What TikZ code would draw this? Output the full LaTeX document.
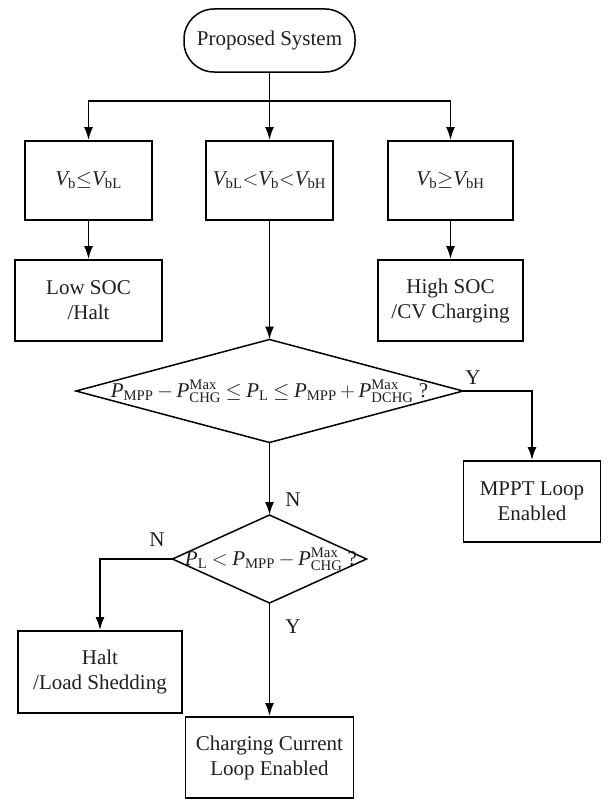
\documentclass[tikz,border=0pt]{standalone}
\usepackage{amsmath}
\usepackage{fontspec}
\setmainfont{Liberation Serif}
\usetikzlibrary{shapes.geometric,arrows.meta}
\newcommand{\dfont}{\fontsize{21pt}{25pt}\selectfont\thickmuskip=4mu\medmuskip=3mu}
\newcommand{\Vv}{\textit{V}}
\newcommand{\Pp}{\textit{P}}
\begin{document}
\begin{tikzpicture}[x=1pt,y=-1pt,
  every node/.style={text=black!88},
  box/.style={draw=black, line width=1.8pt, rectangle, inner sep=0pt, align=center, font=\dfont},
  pill/.style={draw=black, line width=1.5pt, rectangle, rounded corners=30pt, inner sep=0pt, font=\dfont},
  dia/.style={draw=black, line width=1.5pt, diamond, inner sep=0pt, outer sep=0pt},
  dtext/.style={inner sep=0pt, font=\dfont},
  lbl/.style={inner sep=0pt, font=\dfont},
  arr/.style={-{Latex[length=13pt,width=9pt]}, line width=1.8pt},
  conn/.style={line width=1.8pt}]
\useasboundingbox (0,0) rectangle (611,800);

% nodes
\node[pill, minimum width=171pt, minimum height=63pt] (ps) at (269.5,40.5) {Proposed System};

\node[box, minimum width=127pt, minimum height=79pt] (b1) at (88.5,180.5) {$\Vv_{\textrm{b}}{\le}\Vv_{\textrm{bL}}$};
\node[box, minimum width=127pt, minimum height=79pt] (b2) at (269.5,180.5) {$\Vv_{\textrm{bL}}{<}\Vv_{\textrm{b}}{<}\Vv_{\textrm{bH}}$};
\node[box, minimum width=125pt, minimum height=79pt] (b3) at (450.5,180.5) {$\Vv_{\textrm{b}}{\ge}\Vv_{\textrm{bH}}$};

\node[box, minimum width=147pt, minimum height=81pt] (low) at (88.5,300.5) {Low SOC\\/Halt};
\node[box, minimum width=145pt, minimum height=81pt] (high) at (450.5,300.5) {High SOC\\/CV Charging};

\node[dia, minimum width=387pt, minimum height=103pt] (d1) at (269.5,391) {};
\node[dtext] (d1t) at (d1.center) {$\Pp_{\textrm{MPP}} - \Pp^{\textrm{Max}}_{\textrm{CHG}} \le \Pp_{\textrm{L}} \le \Pp_{\textrm{MPP}} + \Pp^{\textrm{Max}}_{\textrm{DCHG}}$ ?};

\node[box, minimum width=137pt, minimum height=81pt] (mppt) at (532,501.5) {MPPT Loop\\Enabled};

\node[dia, minimum width=194pt, minimum height=88pt] (d2) at (269.5,559) {};
\node[dtext] (d2t) at (271,559) {$\Pp_{\textrm{L}} < \Pp_{\textrm{MPP}} - \Pp^{\textrm{Max}}_{\textrm{CHG}}$ ?};

\node[box, minimum width=164pt, minimum height=82pt] (halt) at (100,672) {Halt\\/Load Shedding};
\node[box, minimum width=168pt, minimum height=81pt] (chg) at (269.5,757.5) {Charging Current\\Loop Enabled};

% labels
\node[lbl] (ly1) at (473,378) {Y};
\node[lbl] (ln1) at (293,500) {N};
\node[lbl] (ln2) at (157,540) {N};
\node[lbl] (ly2) at (293,627) {Y};

% connectors
\coordinate (br) at (269.5,101);
\draw[arr] (ps.south) -- (b2.north);
\draw[arr] (br) -| (b1.north);
\draw[arr] (br) -| (b3.north);
\draw[arr] (b1.south) -- (low.north);
\draw[arr] (b3.south) -- (high.north);
\draw[arr] (b2.south) -- (d1.north);
\draw[arr] (d1.east) -| (mppt.north);
\draw[arr] (d1.south) -- (d2.north);
\draw[arr] (d2.west) -| (halt.north);
\draw[arr] (d2.south) -- (chg.north);
\end{tikzpicture}
\end{document}
